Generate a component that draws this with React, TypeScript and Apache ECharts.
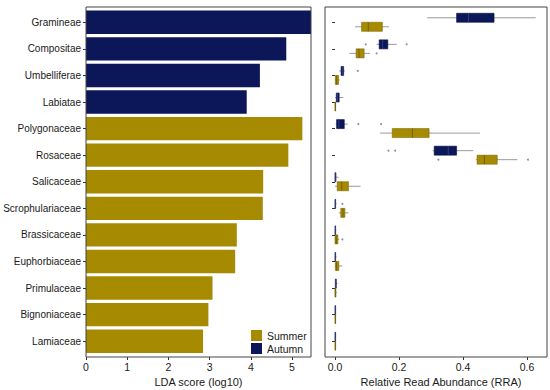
import React, { useEffect, useRef } from "react";
import * as echarts from "echarts";

const families = [
  "Gramineae", "Compositae", "Umbelliferae", "Labiatae", "Polygonaceae", "Rosaceae",
  "Salicaceae", "Scrophulariaceae", "Brassicaceae", "Euphorbiaceae", "Primulaceae",
  "Bignoniaceae", "Lamiaceae",
];
const ldaScores = [5.46, 4.86, 4.22, 3.9, 5.25, 4.91, 4.3, 4.29, 3.66, 3.62, 3.07, 2.97, 2.84];
const seasons = [
  "Autumn", "Autumn", "Autumn", "Autumn", "Summer", "Summer", "Summer",
  "Summer", "Summer", "Summer", "Summer", "Summer", "Summer",
];
const ldaTicks = [0, 1, 2, 3, 4, 5];
const rraTicks = [0, 0.2, 0.4, 0.6];

// [min, q1, median, q3, max] per family
const autumnBoxes = [
  [0.288, 0.38, 0.417, 0.497, 0.627],
  [0.13, 0.138, 0.149, 0.165, 0.193],
  [0.013, 0.019, 0.023, 0.027, 0.031],
  [0.0, 0.004, 0.008, 0.013, 0.026],
  [0.002, 0.005, 0.012, 0.029, 0.04],
  [0.305, 0.31, 0.354, 0.38, 0.432],
  [0.0, 0.0, 0.001, 0.003, 0.011],
  [0.0, 0.0, 0.001, 0.002, 0.005],
  [0.0, 0.0, 0.001, 0.002, 0.004],
  [0.0, 0.0, 0.001, 0.002, 0.005],
  [0.0, 0.001, 0.002, 0.004, 0.008],
  [0.0, 0.0, 0.001, 0.002, 0.003],
  [0.0, 0.0, 0.001, 0.002, 0.003],
];
const summerBoxes = [
  [0.0625, 0.083, 0.104, 0.148, 0.169],
  [0.045, 0.066, 0.075, 0.091, 0.109],
  [0.0, 0.001, 0.005, 0.011, 0.015],
  [0.0, 0.0, 0.001, 0.002, 0.003],
  [0.141, 0.179, 0.242, 0.294, 0.453],
  [0.44, 0.444, 0.467, 0.507, 0.57],
  [0.0, 0.007, 0.021, 0.042, 0.08],
  [0.012, 0.018, 0.025, 0.031, 0.042],
  [0.0, 0.0, 0.004, 0.009, 0.013],
  [0.0, 0.001, 0.005, 0.012, 0.023],
  [0.0, 0.0, 0.001, 0.003, 0.006],
  [0.0, 0.0, 0.001, 0.002, 0.003],
  [0.0, 0.0, 0.001, 0.002, 0.003],
];
// [value, family index]
const autumnOutliers = [
  [0.096, 1], [0.224, 1], [0.071, 2], [0.073, 4], [0.144, 4],
  [0.167, 5], [0.188, 5], [0.023, 7],
];
const summerOutliers = [
  [0.13, 1], [0.323, 5], [0.603, 5], [0.023, 8],
];

const NAVY = "#0b1758";
const GOLD = "#a68a02";
const FONT = "'Liberation Sans', Arial, Helvetica, sans-serif";
const TXT = "#1a1a1a";

export default function App() {
  const ref = useRef<HTMLDivElement>(null);
  useEffect(() => {
    if (!ref.current) return;
    const chart = echarts.init(ref.current, null, { renderer: "svg" });

    const boxRender = (offset: number, fill: string, edge: string, median: string) =>
      (params: any, api: any) => {
        const cat = api.value(0);
        const pMin = api.coord([api.value(1), cat]);
        const pQ1 = api.coord([api.value(2), cat]);
        const pMed = api.coord([api.value(3), cat]);
        const pQ3 = api.coord([api.value(4), cat]);
        const pMax = api.coord([api.value(5), cat]);
        const yc = pMin[1] + offset;
        const bh = 9;
        return {
          type: "group",
          children: [
            {
              type: "line",
              shape: { x1: pMin[0], y1: yc, x2: pMax[0], y2: yc },
              style: { stroke: "#9a9a9a", lineWidth: 1 },
            },
            {
              type: "rect",
              shape: { x: pQ1[0], y: yc - bh / 2, width: Math.max(pQ3[0] - pQ1[0], 0.6), height: bh },
              style: { fill, stroke: edge, lineWidth: 0.6 },
            },
            {
              type: "line",
              shape: { x1: pMed[0], y1: yc - bh / 2, x2: pMed[0], y2: yc + bh / 2 },
              style: { stroke: median, lineWidth: 0.8 },
            },
          ],
        };
      };

    const axisLabelStyle = { color: TXT, fontSize: 10, fontFamily: FONT };
    const tickStyle = { show: true, length: 3, lineStyle: { color: "#333", width: 1 } };

    chart.setOption({
      animation: false,
      backgroundColor: "#fff",
      textStyle: { fontFamily: FONT },
      legend: {
        orient: "vertical",
        left: 251,
        top: 330,
        padding: 0,
        itemWidth: 11,
        itemHeight: 11,
        itemGap: 2,
        icon: "rect",
        data: ["Summer", "Autumn"],
        textStyle: { color: TXT, fontSize: 10.5, fontFamily: FONT, padding: [0, 0, 0, 0] },
        selectedMode: false,
      },
      grid: [
        { left: 86, top: 9, width: 225, height: 345.5, outerBoundsMode: "none" },
        { left: 335, top: 9, width: 212, height: 345.5, outerBoundsMode: "none" },
      ],
      xAxis: [
        {
          gridIndex: 0,
          type: "value",
          min: 0,
          max: 5.46,
          interval: 1,
          offset: 2.5,
          axisLine: { show: false },
          axisTick: { ...tickStyle, customValues: ldaTicks },
          splitLine: { show: false },
          axisLabel: { ...axisLabelStyle, fontSize: 10.5, margin: 4, customValues: ldaTicks },
          name: "LDA score (log10)",
          nameLocation: "middle",
          nameGap: 18,
          nameTextStyle: { color: TXT, fontSize: 11, fontFamily: FONT },
        },
        {
          gridIndex: 1,
          type: "value",
          min: 0,
          max: 0.6625,
          interval: 0.2,
          offset: 2.5,
          axisLine: { show: false },
          axisTick: { ...tickStyle, customValues: rraTicks },
          splitLine: { show: false },
          axisLabel: {
            ...axisLabelStyle,
            fontSize: 10.5,
            margin: 4,
            formatter: (v: number) => v.toFixed(1),
            customValues: rraTicks,
          },
          name: "Relative Read Abundance (RRA)",
          nameLocation: "middle",
          nameGap: 18,
          nameTextStyle: { color: TXT, fontSize: 11, fontFamily: FONT },
        },
      ],
      yAxis: [
        {
          gridIndex: 0,
          type: "category",
          data: families,
          inverse: true,
          axisLine: { show: false },
          axisTick: { ...tickStyle, alignWithLabel: true },
          axisLabel: { ...axisLabelStyle, margin: 5 },
        },
        {
          gridIndex: 1,
          type: "category",
          data: families,
          inverse: true,
          offset: 10,
          axisLine: { show: false },
          axisTick: { ...tickStyle, alignWithLabel: true },
          axisLabel: { show: false },
        },
      ],
      graphic: [
        {
          type: "rect",
          shape: { x: 86, y: 7, width: 225, height: 350 },
          style: { fill: "none", stroke: "#444", lineWidth: 1 },
          silent: true,
          z: 100,
        },
        {
          type: "rect",
          shape: { x: 325, y: 7, width: 222, height: 350 },
          style: { fill: "none", stroke: "#444", lineWidth: 1 },
          silent: true,
          z: 100,
        },
      ],
      series: [
        {
          name: "Summer",
          type: "bar",
          xAxisIndex: 0,
          yAxisIndex: 0,
          data: ldaScores.map((v, i) => (seasons[i] === "Summer" ? v : "-")),
          itemStyle: { color: GOLD },
          barCategoryGap: "12%",
          barGap: "-100%",
        },
        {
          name: "Autumn",
          type: "bar",
          xAxisIndex: 0,
          yAxisIndex: 0,
          data: ldaScores.map((v, i) => (seasons[i] === "Autumn" ? v : "-")),
          itemStyle: { color: NAVY },
          barCategoryGap: "12%",
          barGap: "-100%",
        },
        {
          name: "AutumnBox",
          type: "custom",
          xAxisIndex: 1,
          yAxisIndex: 1,
          renderItem: boxRender(-4.5, NAVY, "#06103f", "#3a4688"),
          encode: { x: [1, 2, 3, 4, 5], y: 0 },
          data: autumnBoxes.map((b, i) => [i, ...b]),
          itemStyle: { color: NAVY },
          silent: true,
        },
        {
          name: "SummerBox",
          type: "custom",
          xAxisIndex: 1,
          yAxisIndex: 1,
          renderItem: boxRender(4.5, GOLD, "#7d6800", "#6b5800"),
          encode: { x: [1, 2, 3, 4, 5], y: 0 },
          data: summerBoxes.map((b, i) => [i, ...b]),
          itemStyle: { color: GOLD },
          silent: true,
        },
        {
          name: "AutumnOut",
          type: "scatter",
          xAxisIndex: 1,
          yAxisIndex: 1,
          symbolSize: 2,
          symbolOffset: [0, -4.5],
          itemStyle: { color: "#777" },
          data: autumnOutliers,
          silent: true,
        },
        {
          name: "SummerOut",
          type: "scatter",
          xAxisIndex: 1,
          yAxisIndex: 1,
          symbolSize: 2,
          symbolOffset: [0, 4.5],
          itemStyle: { color: "#777" },
          data: summerOutliers,
          silent: true,
        },
      ],
    });
    return () => chart.dispose();
  }, []);
  return (
    <div
      ref={ref}
      style={{ position: "fixed", left: 0, top: 0, width: 550, height: 390, background: "#fff" }}
    />
  );
}
